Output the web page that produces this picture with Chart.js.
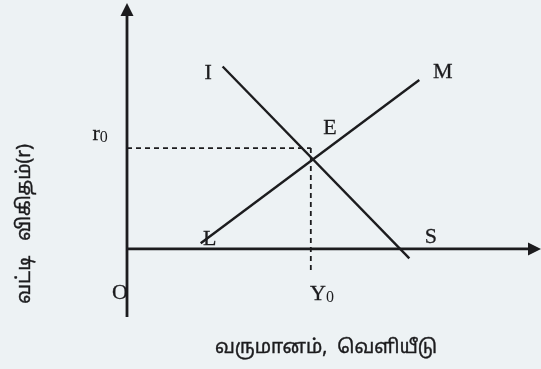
<!DOCTYPE html>
<html>
<head>
<meta charset="utf-8">
<script src="https://cdn.jsdelivr.net/npm/chart.js@4"></script>
<style>
  html, body { margin: 0; padding: 0; background: #edf2f4; }
  #wrap { width: 541px; height: 369px; position: relative; }
</style>
</head>
<body>
<div id="wrap"><canvas id="islm"></canvas></div>
<script>
// IS-LM diagram, values in plot units (origin O at 0,0)
const xRange = [0, 10];
const yRange = [-1.66, 6];

const isX = [2.31, 6.82];
const isY = [4.45, -0.23];
const lmX = [1.78, 7.06];
const lmY = [0.14, 4.12];

const eqX = 4.44;   // Y0
const eqY = 2.46;   // r0
const dropY = -0.61;

const xTitle = 'வருமானம்,  வெளியீடு';
const yTitle = 'வட்டி   விகிதம்(r)';

const ink = '#1c1c1e';

const pts = (xs, ys) => xs.map((x, i) => ({ x: x, y: ys[i] }));

const lineSet = (data, width, dash) => ({
  data: data,
  showLine: true,
  borderColor: ink,
  borderWidth: width,
  borderDash: dash || [],
  pointRadius: 0,
  fill: false,
  clip: false
});

// text labels placed through the scales
const labels = [
  { t: 'I', x: 1.96, y: 4.29 },
  { t: 'M', x: 7.63, y: 4.32 },
  { t: 'E', x: 4.90, y: 2.95 },
  { t: 'L', x: 2.00, y: 0.24 },
  { t: 'S', x: 7.34, y: 0.29 },
  { t: 'O', x: -0.17, y: -1.07 },
  { t: 'Y', sub: '0', x: 4.71, y: -1.10 },
  { t: 'r', sub: '0', x: -0.65, y: 2.80 }
];

const diagramPlugin = {
  id: 'diagram',
  afterDatasetsDraw(chart) {
    const { ctx, scales: { x, y } } = chart;
    ctx.save();
    ctx.fillStyle = ink;
    ctx.strokeStyle = ink;

    // arrow heads on the axes
    const ax = x.getPixelForValue(0), ay = y.getPixelForValue(yRange[1]);
    ctx.beginPath();
    ctx.moveTo(ax, ay);
    ctx.lineTo(ax - 6.5, ay + 13);
    ctx.lineTo(ax + 6.5, ay + 13);
    ctx.closePath();
    ctx.fill();

    const bx = x.getPixelForValue(xRange[1]), by = y.getPixelForValue(0);
    ctx.beginPath();
    ctx.moveTo(bx, by);
    ctx.lineTo(bx - 13, by - 6.5);
    ctx.lineTo(bx - 13, by + 6.5);
    ctx.closePath();
    ctx.fill();

    // point labels
    ctx.textAlign = 'center';
    ctx.textBaseline = 'middle';
    ctx.lineWidth = 0.3;
    labels.forEach(l => {
      const px = x.getPixelForValue(l.x), py = y.getPixelForValue(l.y);
      ctx.font = '22px "Liberation Serif", "DejaVu Serif", serif';
      if (l.sub) {
        const w = ctx.measureText(l.t).width;
        ctx.fillText(l.t, px - 4, py);
        ctx.strokeText(l.t, px - 4, py);
        ctx.font = '16px "Liberation Serif", serif';
        ctx.fillText(l.sub, px - 4 + w / 2 + 4, py + 4);
      } else {
        ctx.fillText(l.t, px, py);
        ctx.strokeText(l.t, px, py);
      }
    });

    // axis titles (Tamil)
    ctx.font = '19px "Noto Sans", "Noto Sans Tamil", sans-serif';
    ctx.lineWidth = 0.4;
    ctx.fillText(xTitle, 326, 348);
    ctx.strokeText(xTitle, 326, 348);
    ctx.translate(25, 224);
    ctx.rotate(-Math.PI / 2);
    ctx.fillText(yTitle, 0, 0);
    ctx.strokeText(yTitle, 0, 0);
    ctx.restore();
  }
};

new Chart(document.getElementById('islm'), {
  type: 'scatter',
  data: {
    datasets: [
      lineSet(pts([0, 0], [yRange[0], yRange[1] - 0.2]), 2.8),
      lineSet(pts([0, xRange[1] - 0.2], [0, 0]), 2.8),
      lineSet(pts(isX, isY), 2.4),
      lineSet(pts(lmX, lmY), 2.4),
      lineSet(pts([0, eqX], [eqY, eqY]), 1.8, [5, 4]),
      lineSet(pts([eqX, eqX], [eqY, dropY]), 1.8, [5, 4])
    ]
  },
  options: {
    responsive: true,
    maintainAspectRatio: false,
    animation: false,
    layout: { padding: { left: 127, right: 0, top: 3, bottom: 52 } },
    plugins: { legend: { display: false }, tooltip: { enabled: false } },
    scales: {
      x: { type: 'linear', min: xRange[0], max: xRange[1], display: false },
      y: { type: 'linear', min: yRange[0], max: yRange[1], display: false }
    }
  },
  plugins: [diagramPlugin]
});
</script>
</body>
</html>
